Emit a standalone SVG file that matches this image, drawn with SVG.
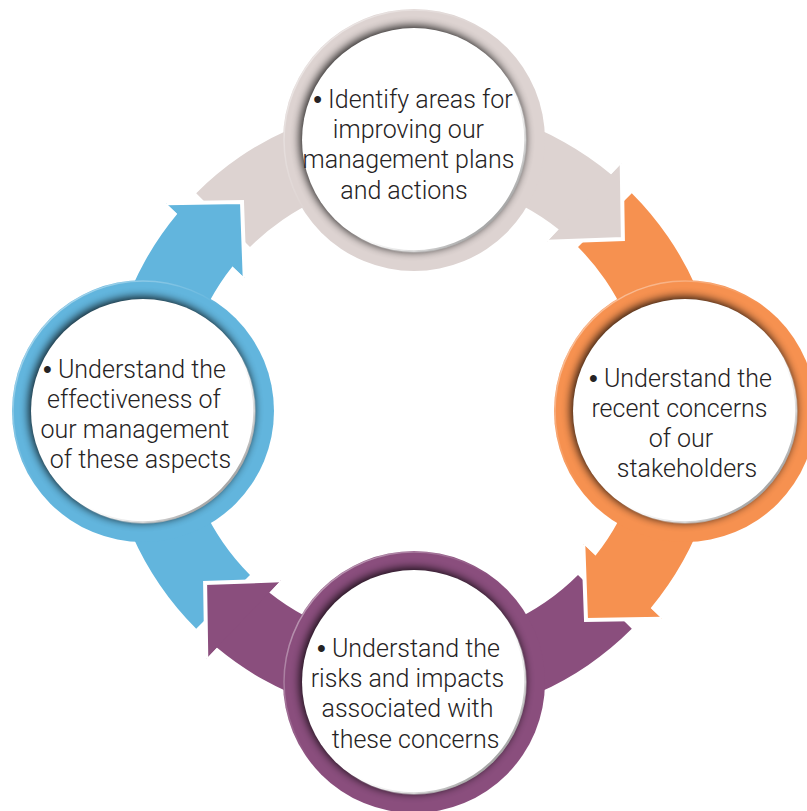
<svg xmlns="http://www.w3.org/2000/svg" xmlns:xlink="http://www.w3.org/1999/xlink" width="807" height="811" viewBox="0 0 807 811">
  <style>
    .grey { fill: #ddd3d1; }
    .orange { fill: #f69150; }
    .purple { fill: #8a4e7d; }
    .blue { fill: #62b5dd; }
    .edge { fill: none; stroke: #ffffff; stroke-width: 4; stroke-linejoin: miter; }
    .shadow { fill: #000000; opacity: 0.8; filter: url(#soft); }
    .disc { fill: #ffffff; }
    .rim { fill: none; stroke: url(#rimGrad); stroke-width: 2.5; }
    .hilite { fill: none; stroke: url(#hiGrad); stroke-width: 1.5; }
    .lbl { font-family: Roboto, "Liberation Sans", Arial, sans-serif; font-weight: 300; font-size: 25px; fill: #262324; text-anchor: middle; }
    .dot { font-family: "Liberation Sans", Arial, sans-serif; font-weight: 400; }
  </style>
  <defs>
    <filter id="soft" x="-30%" y="-30%" width="160%" height="160%">
      <feGaussianBlur stdDeviation="4"/>
    </filter>
    <linearGradient id="rimGrad" x1="0" y1="0" x2="1" y2="1">
      <stop offset="0.55" stop-color="#ffffff" stop-opacity="0"/>
      <stop offset="0.85" stop-color="#a8a8a8" stop-opacity="1"/>
    </linearGradient>
    <linearGradient id="hiGrad" x1="0" y1="0" x2="1" y2="1">
      <stop offset="0" stop-color="#ffffff" stop-opacity="0.6"/>
      <stop offset="0.45" stop-color="#ffffff" stop-opacity="0"/>
    </linearGradient>
    <!-- curved block arrow, drawn for the top-to-right segment; the others are rotations about (414,411) -->
    <path id="arrowBody" d="M 196.2 193.2 A 308 308 0 0 1 611.2 174.4 L 621.7 163.4 L 622.9 239 L 547.3 241.7 L 558.8 229.6 A 232 232 0 0 0 250 247 Z"/>
    <path id="arrowHead" d="M 621.7 163.4 L 622.9 239 L 547.3 241.7 Z"/>
    <path id="headEdge" d="M 621.7 163.4 L 622.9 239 L 547.3 241.7"/>
  </defs>

  <rect width="807" height="811" fill="#ffffff"/>

  <g id="connectors">
    <use xlink:href="#arrowBody" class="grey"/>
    <use xlink:href="#arrowBody" class="orange" transform="rotate(90 414 411)"/>
    <use xlink:href="#arrowBody" class="purple" transform="rotate(180 414 411)"/>
    <use xlink:href="#arrowBody" class="blue" transform="rotate(270 414 411)"/>
    <!-- heads sit on top of the following arrow's tail -->
    <g>
      <use xlink:href="#arrowHead" class="grey"/>
      <use xlink:href="#headEdge" class="edge"/>
    </g>
    <g transform="rotate(90 414 411)">
      <use xlink:href="#arrowHead" class="orange"/>
      <use xlink:href="#headEdge" class="edge"/>
    </g>
    <g transform="rotate(180 414 411)">
      <use xlink:href="#arrowHead" class="purple"/>
      <use xlink:href="#headEdge" class="edge"/>
    </g>
    <g transform="rotate(270 414 411)">
      <use xlink:href="#arrowHead" class="blue"/>
      <use xlink:href="#headEdge" class="edge"/>
    </g>
  </g>

  <g id="node-identify">
    <circle cx="414" cy="140" r="131" class="grey"/>
    <circle cx="412.5" cy="138.5" r="113" class="shadow"/>
    <circle cx="414" cy="140" r="112" class="disc"/>
    <circle cx="414" cy="140" r="111.5" class="rim"/>
    <circle cx="414" cy="140" r="130" class="hilite"/>
    <text class="lbl">
      <tspan x="416" y="108"><tspan class="dot">•</tspan> Identify areas for</tspan>
      <tspan x="411.5" y="138">improving our</tspan>
      <tspan x="411.5" y="168">management plans</tspan>
      <tspan x="404" y="199">and actions</tspan>
    </text>
  </g>

  <g id="node-concerns">
    <circle cx="685" cy="411" r="131" class="orange"/>
    <circle cx="683.5" cy="409.5" r="113" class="shadow"/>
    <circle cx="685" cy="411" r="112" class="disc"/>
    <circle cx="685" cy="411" r="111.5" class="rim"/>
    <circle cx="685" cy="411" r="130" class="hilite"/>
    <text class="lbl">
      <tspan x="683.5" y="387"><tspan class="dot">•</tspan> Understand the</tspan>
      <tspan x="682.5" y="417">recent concerns</tspan>
      <tspan x="684" y="447">of our</tspan>
      <tspan x="687" y="477">stakeholders</tspan>
    </text>
  </g>

  <g id="node-risks">
    <circle cx="414" cy="682" r="131" class="purple"/>
    <circle cx="412.5" cy="680.5" r="113" class="shadow"/>
    <circle cx="414" cy="682" r="112" class="disc"/>
    <circle cx="414" cy="682" r="111.5" class="rim"/>
    <circle cx="414" cy="682" r="130" class="hilite"/>
    <text class="lbl">
      <tspan x="411.5" y="657"><tspan class="dot">•</tspan> Understand the</tspan>
      <tspan x="410.5" y="687">risks and impacts</tspan>
      <tspan x="410.5" y="717">associated with</tspan>
      <tspan x="415.5" y="748">these concerns</tspan>
    </text>
  </g>

  <g id="node-effectiveness">
    <circle cx="143" cy="411" r="131" class="blue"/>
    <circle cx="141.5" cy="409.5" r="113" class="shadow"/>
    <circle cx="143" cy="411" r="112" class="disc"/>
    <circle cx="143" cy="411" r="111.5" class="rim"/>
    <circle cx="143" cy="411" r="130" class="hilite"/>
    <text class="lbl">
      <tspan x="137.5" y="378"><tspan class="dot">•</tspan> Understand the</tspan>
      <tspan x="137" y="408">effectiveness of</tspan>
      <tspan x="138" y="438">our management</tspan>
      <tspan x="140.5" y="468">of these aspects</tspan>
    </text>
  </g>
</svg>
